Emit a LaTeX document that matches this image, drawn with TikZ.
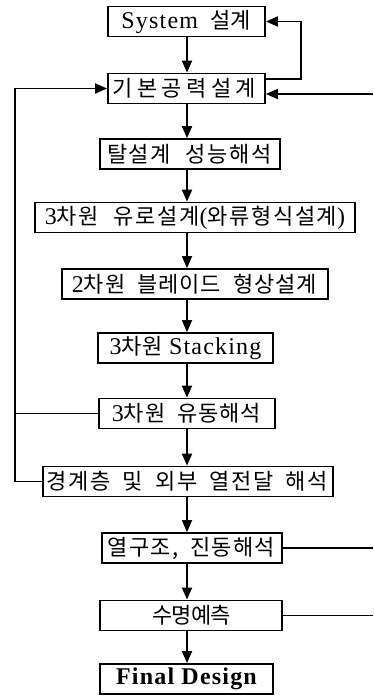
\documentclass[tikz,border=0pt]{standalone}
\usepackage{fontspec}
\setmainfont{Liberation Serif}
\newfontfamily\krf{Noto Sans CJK KR}
\newfontfamily\ltf{Liberation Serif}[LetterSpace=5]
\usetikzlibrary{arrows.meta,calc}
\newlength\kls
\newcommand\Kor[2][2pt]{{\krf\fontsize{22}{24}\selectfont\setlength\kls{#1}\kloop#2\relax}}
\def\kloop#1{\ifx#1\relax\hspace{-\kls}\else#1\hspace{\kls}\expandafter\kloop\fi}
\newcommand\Lat[1]{{\ltf\fontsize{24}{26}\selectfont #1}}
\newcommand\wsp{\hspace{15pt}}
\newcommand\wsn{\hspace{12pt}}
\begin{document}
\begin{tikzpicture}[x=1pt,y=-1pt,
  box/.style={draw, line width=1.8pt, inner sep=0pt, minimum height=30pt},
  ln/.style={line width=1.8pt},
  arr/.style={ln, -{Triangle[length=12pt,width=10pt]}}]
\useasboundingbox (0,0) rectangle (373,697);
\node[box,minimum width=157pt] (sys)   at (186.5,21.5) {\Lat{System}\hspace{12pt}\Kor[0.5pt]{설계}};
\node[box,minimum width=157pt] (base)  at (186.5,88.5) {\Kor[4.5pt]{기본공력설계}};
\node[box,minimum width=180pt] (off)   at (190,154)    {\Kor[1.5pt]{탈설계}\wsp\Kor[1.5pt]{성능해석}};
\node[box,minimum width=320pt] (path)  at (195,217.5)  {\Lat{3}\Kor[1.6pt]{차원}\wsp\Kor[1.6pt]{유로설계}\Lat{(}\Kor[1.6pt]{와류형식설계}\Lat{)}};
\node[box,minimum width=266pt] (blade) at (195,284)    {\Lat{2}\Kor[1pt]{차원}\wsn\Kor[1pt]{블레이드}\wsn\Kor[1pt]{형상설계}};
\node[box,minimum width=175pt] (stack) at (185.5,348)  {\Lat{3}\Kor[1pt]{차원}\hspace{6pt}\Lat{Stacking}};
\node[box,minimum width=176pt] (flow)  at (187,413.5)  {\Lat{3}\Kor[1pt]{차원}\wsn\Kor[1pt]{유동해석}};
\node[box,minimum width=290pt] (bl)    at (188,481.5)  {\Kor[1.7pt]{경계층}\wsn\Kor{및}\wsn\Kor[1.7pt]{외부}\wsn\Kor[1.7pt]{열전달}\wsn\Kor[1.7pt]{해석}};
\node[box,minimum width=180pt] (therm) at (192,548)    {\Kor[1.2pt]{열구조,}\wsn\Kor[1.2pt]{진동해석}};
\node[box,minimum width=182pt] (life)  at (191,615.5)  {\Kor[-1pt]{수명예측}};
\node[box,minimum width=173pt] (final) at (186.5,679)  {\Lat{\bfseries Final Design}};
\coordinate (cx) at (187,0);
\foreach \a/\b in {sys/base,base/off,off/path,path/blade,blade/stack,stack/flow,flow/bl,bl/therm,therm/life,life/final}
  \draw[arr] (\a.south -| cx) -- (\b.north -| cx);
% feedback to System
\coordinate (rc) at (301,0);
\draw[arr] (base.east |- 0,79) -- (rc |- 0,79) -- (rc |- sys.east) -- (sys.east);
% incoming from right
\coordinate (rin) at (373,94);
\draw[arr] (rin) -- (base.east |- rin);
% left feedback
\coordinate (lc) at (15,0);
\draw[ln] (flow.west) -- (lc |- flow.west);
\draw[arr] (bl.west) -- (lc |- bl.west) -- (lc |- base.west) -- (base.west);
% outgoing to right
\coordinate (re) at (373,0);
\draw[ln] (therm.east) -- (re |- therm.east);
\draw[ln] (life.east) -- (re |- life.east);
\end{tikzpicture}
\end{document}
